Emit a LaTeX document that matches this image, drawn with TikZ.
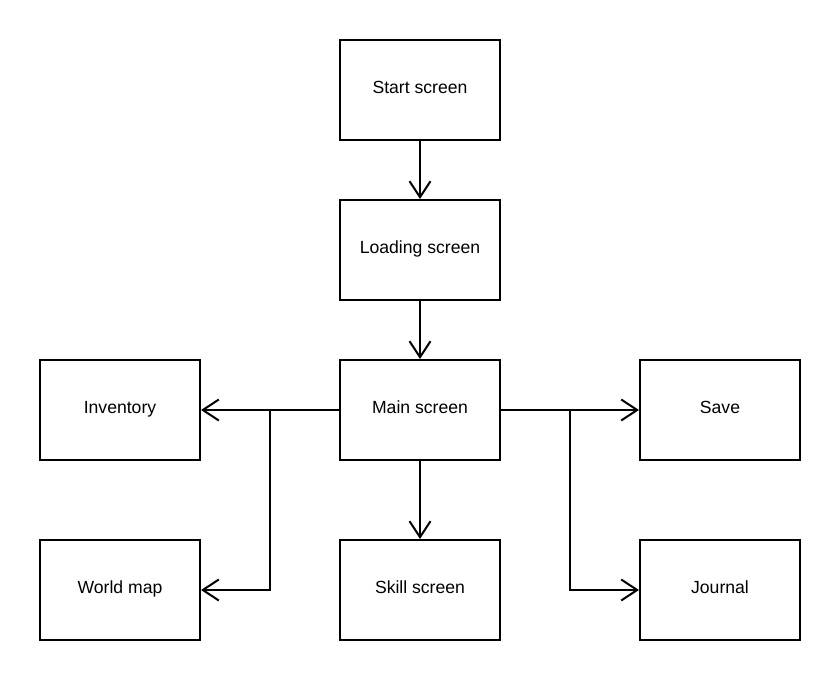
\documentclass[tikz,border=0pt]{standalone}
\usepackage{fontspec}
\setmainfont{Liberation Sans}
\usetikzlibrary{arrows.meta}
\begin{document}
\begin{tikzpicture}[x=1pt,y=-1pt,
  box/.style={draw=black,line width=2pt,minimum width=160pt,minimum height=100pt,inner sep=0pt,text height=12pt,text depth=6pt,font=\fontsize{17.6}{20}\selectfont},
  conn/.style={draw=black,line width=2pt,-{Straight Barb[length=16pt,width=21pt,line width=2pt]}}]
\useasboundingbox (0,0) rectangle (840,680);
\node[box] (start) at (420,90) {Start screen};
\node[box] (load) at (420,250) {Loading screen};
\node[box] (main) at (420,410) {Main screen};
\node[box] (inv) at (120,410) {Inventory};
\node[box] (world) at (120,590) {World map};
\node[box] (skill) at (420,590) {Skill screen};
\node[box] (save) at (720,410) {Save};
\node[box] (journal) at (720,590) {Journal};
\coordinate (jl) at (270,410);
\coordinate (jr) at (570,410);
\draw[conn] (start) -- (load);
\draw[conn] (load) -- (main);
\draw[conn] (main) -- (skill);
\draw[conn] (main) -- (inv);
\draw[conn] (main) -- (save);
\draw[conn] (jl) |- (world);
\draw[conn] (jr) |- (journal);
\end{tikzpicture}
\end{document}
